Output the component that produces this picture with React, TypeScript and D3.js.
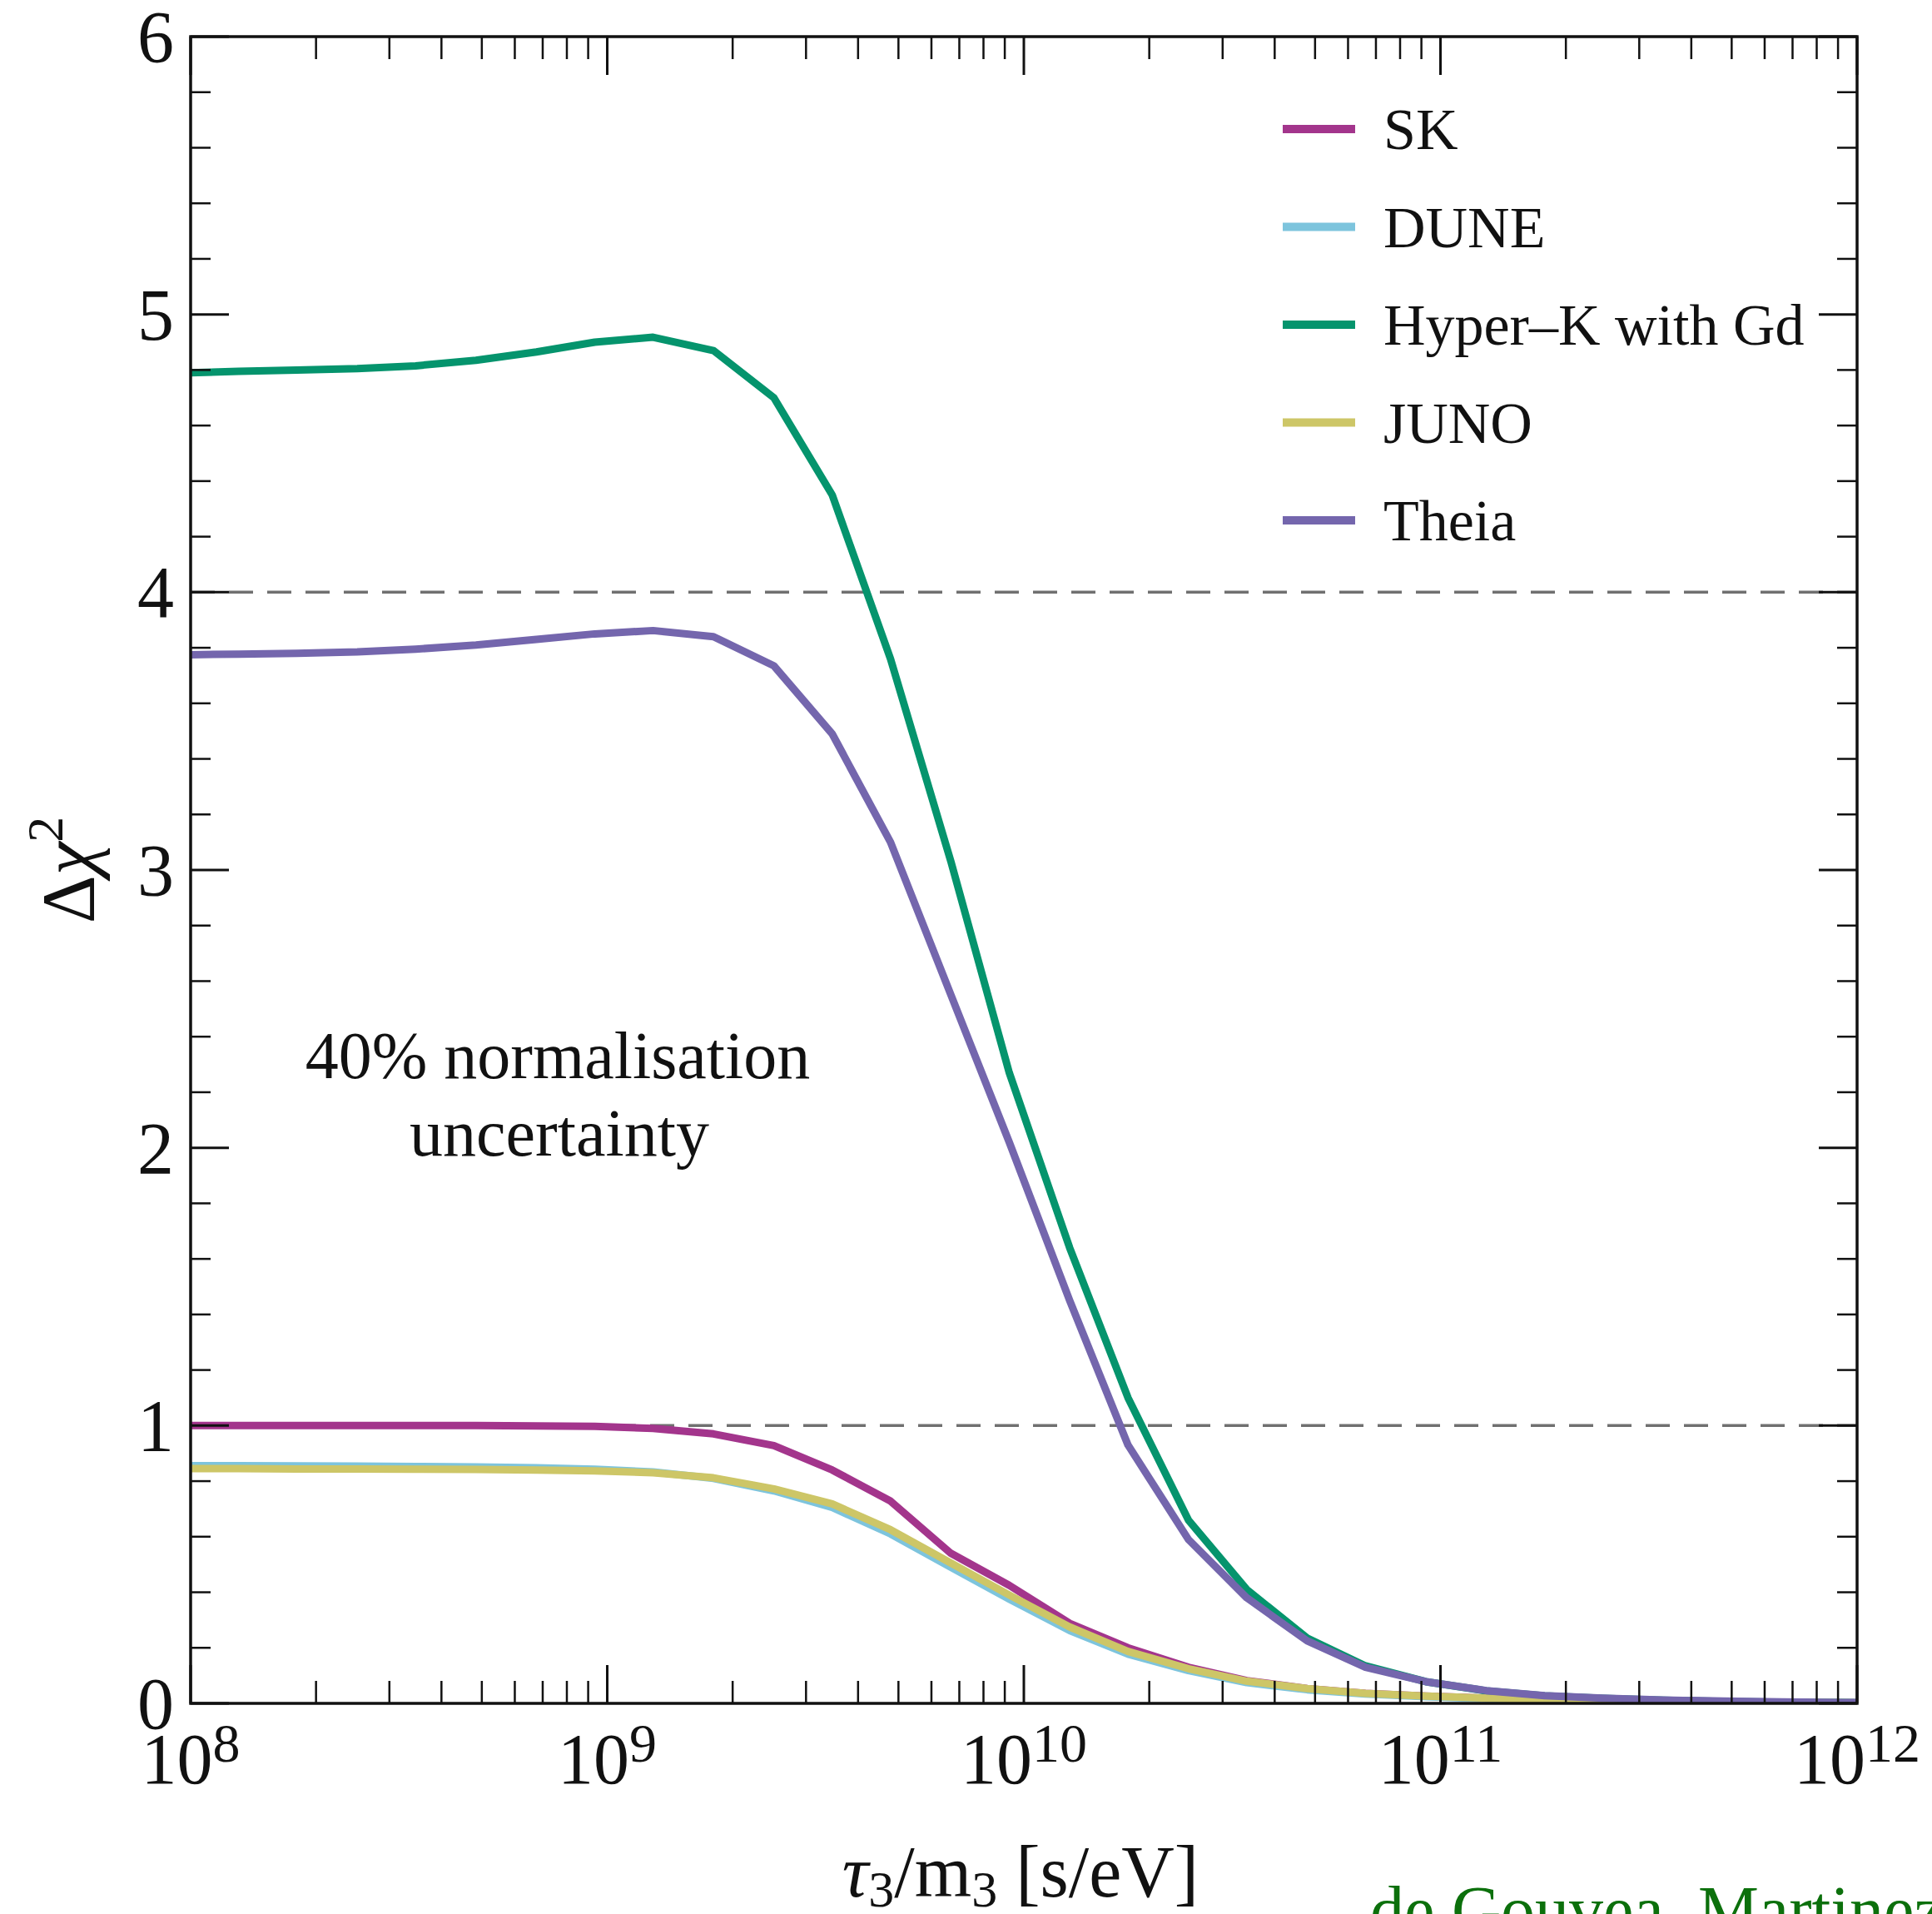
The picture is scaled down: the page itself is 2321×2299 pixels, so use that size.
import React from "react";
import * as d3 from "d3";

// log10(tau_3 / m_3) sample grid shared by every curve
const logTau = [
  8.0, 8.115, 8.255, 8.4, 8.54, 8.685, 8.83, 8.97, 9.11, 9.255, 9.4, 9.54, 9.68, 9.825, 9.965,
  10.11, 10.25, 10.395, 10.535, 10.68, 10.82, 10.965, 11.11, 11.25, 11.39, 11.535, 11.68, 11.82,
  11.965, 12.0,
];

// Delta chi^2 for each experiment
const skValues = [
  1.0, 1.0, 1.0, 1.0, 1.0, 1.0, 0.999, 0.997, 0.99, 0.97, 0.928, 0.84, 0.728, 0.54, 0.425,
  0.288, 0.2, 0.13, 0.082, 0.053, 0.036, 0.026, 0.019, 0.013, 0.009, 0.006, 0.004, 0.003, 0.002,
  0.002,
];
const duneValues = [
  0.856, 0.856, 0.855, 0.854, 0.853, 0.851, 0.848, 0.843, 0.833, 0.81, 0.765, 0.705, 0.61, 0.49,
  0.375, 0.262, 0.177, 0.118, 0.075, 0.049, 0.034, 0.024, 0.017, 0.012, 0.008, 0.005, 0.004,
  0.003, 0.002, 0.002,
];
const hyperKValues = [
  4.79, 4.795, 4.8, 4.805, 4.815, 4.835, 4.865, 4.9, 4.918, 4.87, 4.7, 4.35, 3.76, 3.03, 2.27,
  1.64, 1.1, 0.66, 0.41, 0.235, 0.135, 0.078, 0.045, 0.027, 0.018, 0.011, 0.007, 0.004, 0.003,
  0.002,
];
const junoValues = [
  0.845, 0.845, 0.844, 0.844, 0.843, 0.842, 0.84, 0.837, 0.83, 0.812, 0.772, 0.718, 0.625, 0.505,
  0.39, 0.275, 0.187, 0.125, 0.08, 0.053, 0.036, 0.026, 0.019, 0.013, 0.009, 0.006, 0.004, 0.003,
  0.002, 0.002,
];
const theiaValues = [
  3.775, 3.777, 3.78, 3.785, 3.795, 3.81, 3.83, 3.85, 3.862, 3.84, 3.735, 3.49, 3.1, 2.55, 2.02,
  1.45, 0.93, 0.59, 0.38, 0.225, 0.13, 0.078, 0.046, 0.028, 0.019, 0.012, 0.008, 0.005, 0.003,
  0.003,
];

const seriesNames = ["SK", "DUNE", "Hyper\u2013K with Gd", "JUNO", "Theia"];
const seriesColors = ["#a3358c", "#7dc4dd", "#05946d", "#cdc667", "#7466ad"];
const seriesValues = [skValues, duneValues, hyperKValues, junoValues, theiaValues];

const referenceLevels = [1, 4];
const yTickValues = [0, 1, 2, 3, 4, 5, 6];
const xDecades = [8, 9, 10, 11, 12];

const W = 2321;
const H = 2299;
const left = 229;
const right = 2231;
const top = 44;
const bottom = 2046;

const serif = "'Liberation Serif', 'Times New Roman', serif";

export default function App() {
  const x = d3.scaleLog().domain([1e8, 1e12]).range([left, right]);
  const y = d3.scaleLinear().domain([0, 6]).range([bottom, top]);

  const line = d3
    .line<[number, number]>()
    .x((d) => x(Math.pow(10, d[0])))
    .y((d) => y(d[1]))
    .curve(d3.curveLinear);

  const allXTicks = x.ticks();
  const isDecade = (v: number) => Math.abs(Math.log10(v) - Math.round(Math.log10(v))) < 1e-9;
  const xMinor = allXTicks.filter((v) => !isDecade(v));
  const xMajor = xDecades.map((e) => Math.pow(10, e));
  const yMinor = d3.range(0, 6.0001, 0.2).filter((v) => Math.abs(v - Math.round(v)) > 1e-6);

  const majorLen = 46;
  const xMinorLen = 27;
  const yMinorLen = 24;

  return (
    <svg
      width={W}
      height={H}
      viewBox={`0 0 ${W} ${H}`}
      style={{ position: "absolute", left: 0, top: 0, background: "#fff" }}
    >
      <defs>
        <clipPath id="plotArea">
          <rect x={left} y={top - 10} width={right - left} height={bottom - top + 10} />
        </clipPath>
      </defs>
      <rect x={0} y={0} width={W} height={H} fill="#fff" />

      {/* reference levels */}
      {referenceLevels.map((lv) => (
        <line
          key={lv}
          x1={left}
          x2={right}
          y1={y(lv)}
          y2={y(lv)}
          stroke="#707070"
          strokeWidth={3.5}
          strokeDasharray="29 17"
        />
      ))}

      {/* curves */}
      <g clipPath="url(#plotArea)">
        {seriesValues.map((vals, i) => (
          <path
            key={seriesNames[i]}
            d={line(logTau.map((lt, j) => [lt, vals[j]] as [number, number])) || ""}
            fill="none"
            stroke={seriesColors[i]}
            strokeWidth={9}
            strokeLinejoin="round"
          />
        ))}
      </g>

      {/* frame */}
      <rect
        x={left}
        y={top}
        width={right - left}
        height={bottom - top}
        fill="none"
        stroke="#111"
        strokeWidth={3.5}
      />

      {/* x ticks, bottom and top */}
      {xMajor.map((v) => (
        <g key={`xM${v}`} stroke="#111" strokeWidth={3}>
          <line x1={x(v)} x2={x(v)} y1={bottom} y2={bottom - majorLen} />
          <line x1={x(v)} x2={x(v)} y1={top} y2={top + majorLen} />
        </g>
      ))}
      {xMinor.map((v) => (
        <g key={`xm${v}`} stroke="#111" strokeWidth={2.5}>
          <line x1={x(v)} x2={x(v)} y1={bottom} y2={bottom - xMinorLen} />
          <line x1={x(v)} x2={x(v)} y1={top} y2={top + xMinorLen} />
        </g>
      ))}

      {/* y ticks, left and right */}
      {yTickValues.map((v) => (
        <g key={`yM${v}`} stroke="#111" strokeWidth={3}>
          <line x1={left} x2={left + majorLen} y1={y(v)} y2={y(v)} />
          <line x1={right} x2={right - majorLen} y1={y(v)} y2={y(v)} />
        </g>
      ))}
      {yMinor.map((v) => (
        <g key={`ym${v}`} stroke="#111" strokeWidth={2.5}>
          <line x1={left} x2={left + yMinorLen} y1={y(v)} y2={y(v)} />
          <line x1={right} x2={right - yMinorLen} y1={y(v)} y2={y(v)} />
        </g>
      ))}

      {/* y tick labels */}
      {yTickValues.map((v) => (
        <text
          key={`yl${v}`}
          x={left - 20}
          y={y(v) + 30}
          textAnchor="end"
          fontFamily={serif}
          fontSize={88}
          fill="#111"
        >
          {v}
        </text>
      ))}

      {/* x tick labels */}
      {xDecades.map((e) => (
        <text
          key={`xl${e}`}
          x={x(Math.pow(10, e))}
          y={2142}
          textAnchor="middle"
          fontFamily={serif}
          fontSize={86}
          fill="#111"
        >
          <tspan>10</tspan>
          <tspan dy={-26} fontSize={66}>
            {e}
          </tspan>
        </text>
      ))}

      {/* axis titles */}
      <text x={1226} y={2278} textAnchor="middle" fontFamily={serif} fontSize={88} fill="#111">
        <tspan fontStyle="italic">τ</tspan>
        <tspan dy={12} fontSize={62}>3</tspan>
        <tspan dy={-12}>/m</tspan>
        <tspan dy={12} fontSize={62}>3</tspan>
        <tspan dy={-12}> [s/eV]</tspan>
      </text>
      <text
        transform={`translate(113, ${(top + bottom) / 2}) rotate(-90)`}
        textAnchor="middle"
        fontFamily={serif}
        fontSize={90}
        fill="#111"
      >
        <tspan>Δ</tspan>
        <tspan fontStyle="italic">χ</tspan>
        <tspan dy={-38} fontSize={62}>2</tspan>
      </text>

      {/* legend */}
      {seriesNames.map((name, i) => {
        const ly = 155 + i * 117.5;
        return (
          <g key={`lg${name}`}>
            <line x1={1541} x2={1628} y1={ly} y2={ly} stroke={seriesColors[i]} strokeWidth={10} />
            <text x={1662} y={ly + 24} fontFamily={serif} fontSize={70} fill="#111">
              {name}
            </text>
          </g>
        );
      })}

      {/* annotation */}
      <text x={670} y={1295} textAnchor="middle" fontFamily={serif} fontSize={80} fill="#111">
        40% normalisation
      </text>
      <text x={672} y={1388} textAnchor="middle" fontFamily={serif} fontSize={80} fill="#111">
        uncertainty
      </text>

      {/* reference credit */}
      <text x={1646} y={2322} fontFamily={serif} fontSize={82} fill="#0c700c">
        de Gouvea, Martinez-Soler, Perez-Gonzalez, Sen
      </text>
    </svg>
  );
}
